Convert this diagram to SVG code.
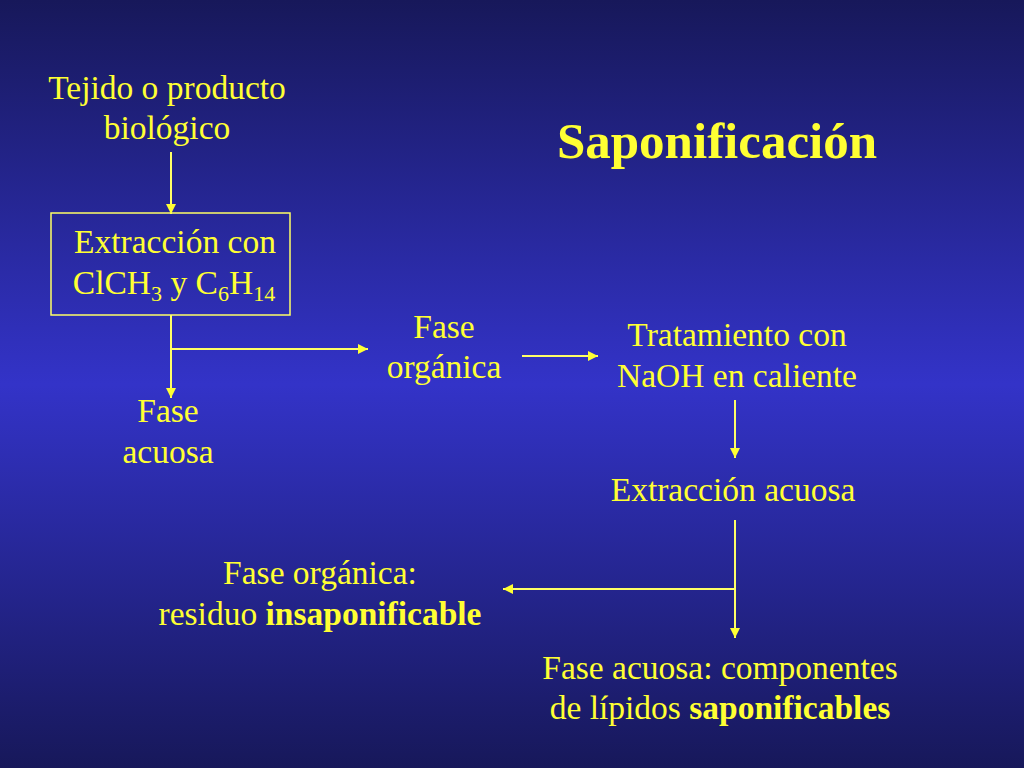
<svg xmlns="http://www.w3.org/2000/svg" width="1024" height="768" viewBox="0 0 1024 768">
<defs>
<linearGradient id="bg" x1="0" y1="0" x2="0" y2="1">
<stop offset="0" stop-color="#17185a"/>
<stop offset="0.5" stop-color="#3333c8"/>
<stop offset="1" stop-color="#17185a"/>
</linearGradient>
<marker id="ah" viewBox="0 0 10 10" refX="10" refY="5" markerWidth="10" markerHeight="10" markerUnits="userSpaceOnUse" orient="auto">
<path d="M0,0 L10,5 L0,10 z" fill="#ffff33"/>
</marker>
<style>
text{font-family:"Liberation Serif","Times New Roman",serif;fill:#ffff33;font-size:33.5px;text-anchor:middle}
.b{font-weight:bold}
.sub{font-size:22px}
.ln{stroke:#ffff66;stroke-width:2;fill:none}
.arr{marker-end:url(#ah)}
</style>
</defs>
<rect width="1024" height="768" fill="url(#bg)"/>
<text class="b" x="717" y="158" style="font-size:51px">Saponificación</text>
<g id="tejido"><text x="167" y="99">Tejido o producto</text><text x="167" y="139">biológico</text></g>
<g id="extraccion"><rect x="51" y="213" width="239" height="102" fill="none" stroke="#ffff66" stroke-width="1.5"/>
<text x="175" y="253">Extracción con</text>
<text x="174" y="294">ClCH<tspan class="sub" dy="7">3</tspan><tspan dy="-7"> y C</tspan><tspan class="sub" dy="7">6</tspan><tspan dy="-7">H</tspan><tspan class="sub" dy="7">14</tspan></text></g>
<g id="fase-organica"><text x="444" y="338">Fase</text><text x="444" y="378">orgánica</text></g>
<g id="fase-acuosa"><text x="168" y="422">Fase</text><text x="168" y="463">acuosa</text></g>
<g id="tratamiento"><text x="737" y="346">Tratamiento con</text><text x="737" y="387">NaOH en caliente</text></g>
<g id="extraccion-acuosa"><text x="733" y="501">Extracción acuosa</text></g>
<g id="insaponificable"><text x="320" y="584">Fase orgánica:</text><text x="320" y="625">residuo <tspan class="b">insaponificable</tspan></text></g>
<g id="saponificables"><text x="720" y="679">Fase acuosa: componentes</text><text x="720" y="719">de lípidos <tspan class="b">saponificables</tspan></text></g>
<g id="connectors">
<line class="ln arr" x1="171" y1="152" x2="171" y2="214"/>
<line class="ln arr" x1="171" y1="315" x2="171" y2="398"/>
<line class="ln arr" x1="171" y1="349" x2="368" y2="349"/>
<line class="ln arr" x1="522" y1="356" x2="598" y2="356"/>
<line class="ln arr" x1="735" y1="400" x2="735" y2="458"/>
<line class="ln arr" x1="735" y1="520" x2="735" y2="638"/>
<line class="ln arr" x1="735" y1="589" x2="503" y2="589"/>
</g>
</svg>
